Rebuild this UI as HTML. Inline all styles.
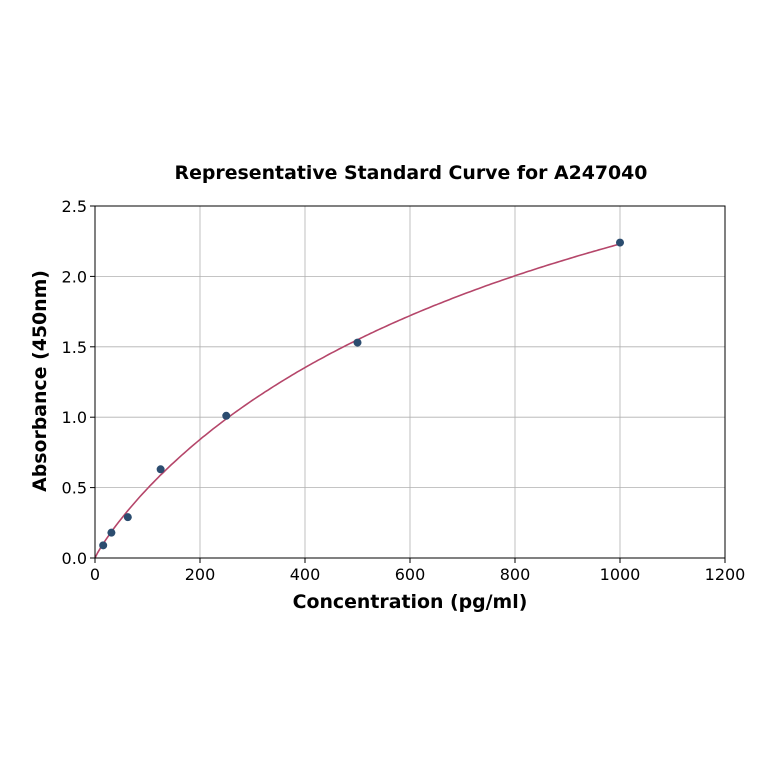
<!DOCTYPE html>
<html><head><meta charset="utf-8"><style>
body{margin:0;background:#fff;font-family:"DejaVu Sans","Liberation Sans",sans-serif}
</style></head><body>
<svg id="chart" width="764" height="764" xmlns="http://www.w3.org/2000/svg">
<rect width="764" height="764" fill="#fff"/>
<text x="411" y="179" text-anchor="middle" font-size="18.9" font-weight="bold">Representative Standard Curve for A247040</text>
<g id="grid"></g>
<g id="axes"></g>
<path id="curve" fill="none" stroke="#b5466a" stroke-width="1.6"/>
<g id="pts"></g>
<rect x="95" y="206" width="630" height="352" fill="none" stroke="#000" stroke-width="1"/>
<text x="410" y="608" text-anchor="middle" font-size="18.9" font-weight="bold">Concentration (pg/ml)</text>
<text transform="translate(46,381) rotate(-90)" text-anchor="middle" font-size="18.9" font-weight="bold">Absorbance (450nm)</text>
</svg>
<script>
const concentrations=[15.6,31.25,62.5,125,250,500,1000];
const absorbances=[0.09,0.18,0.29,0.63,1.01,1.53,2.24];
const xTicks=[0,200,400,600,800,1000,1200];
const yTicks=[0,0.5,1.0,1.5,2.0,2.5];
const yTickLabels=["0.0","0.5","1.0","1.5","2.0","2.5"];
const fitD=4.52, fitK=514.6, fitB=0.9;
const NS="http://www.w3.org/2000/svg";
const X=v=>95+v/1200*630, Y=v=>558-v/2.5*352;
const grid=document.getElementById('grid'), axes=document.getElementById('axes');
function mk(t,a,p){const e=document.createElementNS(NS,t);for(const k in a)e.setAttribute(k,a[k]);p.appendChild(e);return e;}
xTicks.forEach(t=>{
 const l=mk('line',{x1:X(t),x2:X(t),y1:206,y2:558,stroke:'#b0b0b0','stroke-width':0.8},grid);
 
 
 mk('line',{x1:X(t),x2:X(t),y1:558,y2:563,stroke:'#000'},axes);
 const tx=mk('text',{x:X(t),y:580,'text-anchor':'middle','font-size':16},axes);tx.textContent=t;
 
 
});
yTicks.forEach((t,i)=>{
 const l=mk('line',{x1:95,x2:725,y1:Y(t),y2:Y(t),stroke:'#b0b0b0','stroke-width':0.8},grid);
 
 
 mk('line',{x1:90,x2:95,y1:Y(t),y2:Y(t),stroke:'#000'},axes);
 const tx=mk('text',{x:87,y:Y(t)+6,'text-anchor':'end','font-size':16},axes);tx.textContent=yTickLabels[i];
 
 
});
let d='';
for(let x=0;x<=1000;x+=5){const p=Math.pow(x,fitB);const y=fitD*p/(fitK+p);d+=(x?'L':'M')+X(x).toFixed(1)+','+Y(y).toFixed(1);}
document.getElementById('curve').setAttribute('d',d);
const pts=document.getElementById('pts');
concentrations.forEach((c,i)=>{
 const e=mk('circle',{cx:X(c),cy:Y(absorbances[i]),r:4,fill:'#2b4c6f'},pts);
 
 
});
</script>
</body></html>
